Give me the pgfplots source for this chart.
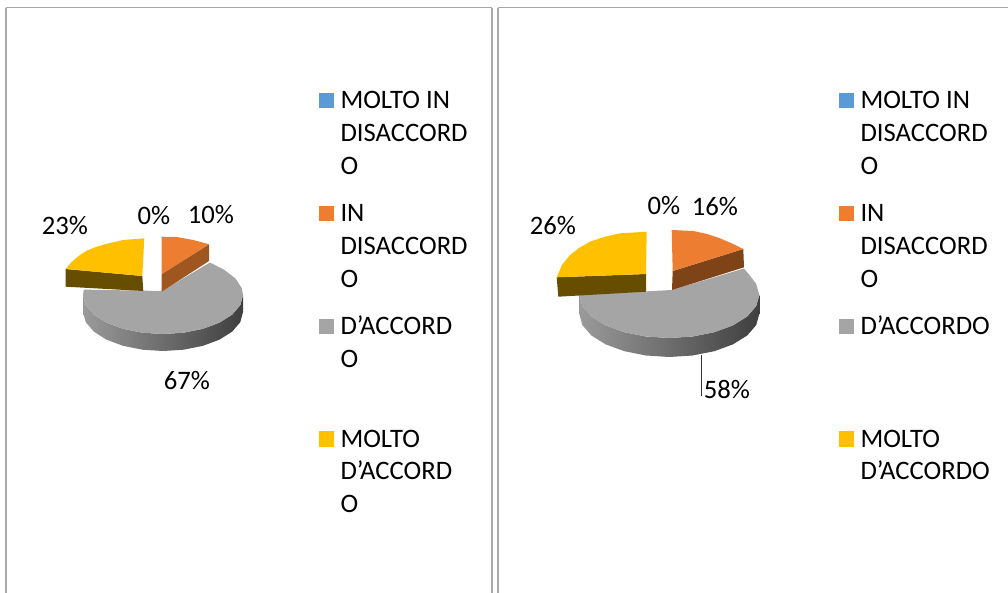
\documentclass[border=0pt]{standalone}
\usepackage{pgfplots}
\pgfplotsset{compat=1.18}
\usepackage{fontspec}
\setmainfont{Carlito}
\definecolor{cblue}{HTML}{5B9BD5}
\definecolor{corange}{HTML}{ED7D31}
\definecolor{cgray}{HTML}{A5A5A5}
\definecolor{cyellow}{HTML}{FFC000}
\definecolor{orangeL}{HTML}{A0561F}
\definecolor{orangeR}{HTML}{7F4318}
\definecolor{yellowside}{HTML}{664D00}
\definecolor{framec}{HTML}{A8A8A8}
\definecolor{sideL}{HTML}{9A9A9A}
\definecolor{sideM}{HTML}{666666}
\definecolor{sideR}{HTML}{3F3F3F}
\newcommand{\lab}[3]{\node[anchor=base west,inner sep=0pt,outer sep=0pt] at (axis cs:#1,#2) {#3};}
\newcommand{\pct}[3]{\node[anchor=center,inner sep=0pt,outer sep=0pt] at (axis cs:#1,#2) {#3};}
\begin{document}
\begin{tikzpicture}
\useasboundingbox (0,0) rectangle (756pt,444.75pt);
\begin{axis}[
  at={(0,0)},anchor=south west,
  scale only axis,width=756pt,height=444.75pt,
  xmin=0,xmax=1008,ymin=0,ymax=593,y dir=reverse,
  hide axis,clip=true,
  font=\fontsize{20}{24}\selectfont,
]
% frames
\addplot[framec,line width=1.4pt] coordinates {(6,593)(6,7.5)};
\addplot[framec,line width=0.8pt] coordinates {(6,7.5)(492,7.5)};
\addplot[framec,line width=1.2pt] coordinates {(492,7.5)(492,593)};
\addplot[framec,line width=1.2pt] coordinates {(498,593)(498,7.5)};
\addplot[framec,line width=0.8pt] coordinates {(498,7.5)(1008,7.5)};

% left pie: grey side
\addplot[draw=none,left color=sideL,middle color=sideM,right color=sideR] coordinates {
(243,295)(240.3,305.1)(232.3,314.5)(219.6,322.6)(203,328.8)(183.7,332.7)(163,334)(142.3,332.7)(123,328.8)(106.4,322.6)(93.7,314.5)(85.7,305.1)(83,295)
(83,312)(85.7,322.1)(93.7,331.5)(106.4,339.6)(123,345.8)(142.3,349.7)(163,351)(183.7,349.7)(203,345.8)(219.6,339.6)(232.3,331.5)(240.3,322.1)(243,312)};
% left pie: grey top
\addplot[draw=none,fill=cgray] coordinates {
(162,291)(210,262.5)(224.3,269.9)(235.5,278.5)(241.8,288.2)(243,295)(240.3,305.1)(232.3,314.5)(219.6,322.6)(203,328.8)(183.7,332.7)(163,334)(142.3,332.7)(123,328.8)(106.4,322.6)(93.7,314.5)(85.7,305.1)(83,295)(83.8,289.6)};
% left pie: orange
\addplot[draw=none,fill=orangeL] coordinates {(209,244.3)(209,261)(161.7,291.7)(161.7,274)};
\addplot[draw=none,fill=corange] coordinates {(161.7,236.7)(176.7,237)(193.3,240)(209,244.3)(161.7,274)};
% left pie: yellow
\addplot[draw=none,fill=yellowside] coordinates {(65.7,269)(65.7,286.7)(143.3,291)(142.3,276)};
\addplot[draw=none,fill=cyellow] coordinates {(144.3,238.3)(123.3,240)(108,243.5)(96.7,246.7)(87,250.5)(80,255)(72,261.5)(65.7,269)(142.3,276)};

% right pie: grey side
\addplot[draw=none,left color=sideL,middle color=sideM,right color=sideR] coordinates {
(759.3,295)(756.2,306.1)(747.2,316.5)(732.9,325.4)(714.3,332.2)(692.6,336.5)(669.3,338)(646,336.5)(624.3,332.2)(605.7,325.4)(591.4,316.5)(582.4,306.1)(579.3,295)
(579.3,314)(582.4,325.1)(591.4,335.5)(605.7,344.4)(624.3,351.2)(646,355.5)(669.3,357)(692.6,355.5)(714.3,351.2)(732.9,344.4)(747.2,335.5)(756.2,325.1)(759.3,314)};
% right pie: grey top
\addplot[draw=none,fill=cgray] coordinates {
(671.7,290)(744,268.5)(750.9,276.8)(756.2,283.9)(759.3,295)(756.2,306.1)(747.2,316.5)(732.9,325.4)(714.3,332.2)(692.6,336.5)(669.3,338)(646,336.5)(624.3,332.2)(605.7,325.4)(591.4,316.5)(582.4,306.1)(579.3,295)};
% right pie: orange
\addplot[draw=none,fill=orangeR] coordinates {(743.3,249)(744,267.3)(672,290)(672.7,271)};
\addplot[draw=none,fill=corange] coordinates {(671.7,230)(693.3,231)(707,234)(720,238.3)(732,243.5)(743.3,249)(672.7,271)};
% right pie: yellow
\addplot[draw=none,fill=yellowside] coordinates {(556.7,277.3)(558.3,296.7)(646,291.7)(646,274)};
\addplot[draw=none,fill=cyellow] coordinates {(646.7,231.7)(620,233.3)(604,237)(590,241.7)(579,248)(570,255)(562,265)(556.7,277.3)(646,274)};

% leader line
\addplot[black!80,line width=0.7pt] coordinates {(701,355)(701,396)};

% percentage labels
\pct{65}{226}{23\%}
\pct{154}{216}{0\%}
\pct{211}{214.5}{10\%}
\pct{187}{381}{67\%}
\pct{553}{226}{26\%}
\pct{664}{206}{0\%}
\pct{715}{206.5}{16\%}
\pct{727}{389}{58\%}

% legend markers
\addplot[only marks,mark=square*,mark size=5.5pt,color=cblue,mark options={line width=0pt}] coordinates {(326.5,100.5)(846.5,100.5)};
\addplot[only marks,mark=square*,mark size=5.5pt,color=corange,mark options={line width=0pt}] coordinates {(326.5,213.5)(846.5,213.5)};
\addplot[only marks,mark=square*,mark size=5.5pt,color=cgray,mark options={line width=0pt}] coordinates {(326.5,326.5)(846.5,326.5)};
\addplot[only marks,mark=square*,mark size=5.5pt,color=cyellow,mark options={line width=0pt}] coordinates {(326.5,439)(846.5,439)};

% left legend text
\lab{340.5}{108.3}{MOLTO IN}
\lab{340.5}{141.3}{DISACCORD}
\lab{340.5}{174.3}{O}
\lab{340.5}{221.3}{IN}
\lab{340.5}{254.3}{DISACCORD}
\lab{340.5}{287.3}{O}
\lab{340.5}{334.3}{D’ACCORD}
\lab{340.5}{367.3}{O}
\lab{340.5}{447.3}{MOLTO}
\lab{340.5}{479.3}{D’ACCORD}
\lab{340.5}{512.3}{O}
% right legend text
\lab{860.5}{108.3}{MOLTO IN}
\lab{860.5}{141.3}{DISACCORD}
\lab{860.5}{174.3}{O}
\lab{860.5}{221.3}{IN}
\lab{860.5}{254.3}{DISACCORD}
\lab{860.5}{287.3}{O}
\lab{860.5}{334.3}{D’ACCORDO}
\lab{860.5}{447.3}{MOLTO}
\lab{860.5}{479.3}{D’ACCORDO}
\end{axis}
\end{tikzpicture}
\end{document}
